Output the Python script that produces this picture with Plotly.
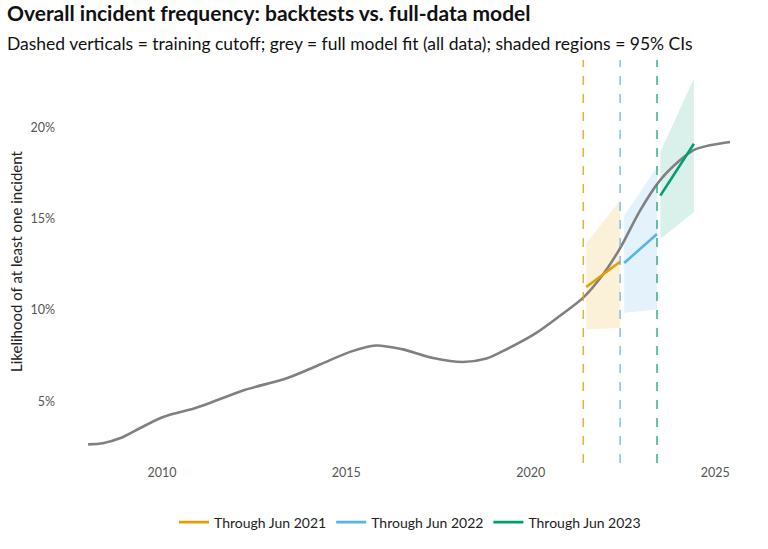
import plotly.graph_objects as go

FONT = "Lato"

# Full-model (grey) fit
grey_years = [2008.0, 2008.4, 2008.86, 2009.4, 2009.95, 2010.31, 2010.85, 2011.3, 2012.2,
              2013.4, 2014.3, 2015.1, 2015.8, 2016.5, 2017.35, 2018.15, 2018.8,
              2019.24, 2020.15, 2020.78, 2021.42, 2021.96, 2022.41, 2022.96, 2023.5,
              2024.04, 2024.4, 2024.85, 2025.4]
grey_vals = [2.65, 2.71, 2.98, 3.53, 4.08, 4.32, 4.6, 4.91, 5.6,
             6.28, 7.03, 7.71, 8.06, 7.86, 7.38, 7.16, 7.35,
             7.75, 8.75, 9.67, 10.68, 11.96, 13.35, 15.44, 17.09,
             18.19, 18.74, 19.01, 19.19]

# Backtests
series_names = ["Through Jun 2021", "Through Jun 2022", "Through Jun 2023"]
series_colors = ["#E69F00", "#56B4E9", "#009E73"]
series_fill = ["rgba(230,159,0,0.15)", "rgba(86,180,233,0.17)", "rgba(0,158,115,0.15)"]
cutoffs = [2021.42, 2022.42, 2023.42]

bt_x = [[2021.5, 2022.42], [2022.53, 2023.42], [2023.51, 2024.42]]
bt_y = [[11.26, 12.64], [12.57, 14.16], [16.26, 19.10]]
bt_lo = [[8.94, 9.03], [9.85, 10.03], [13.88, 15.35]]
bt_hi = [[13.65, 15.99], [15.16, 17.82], [18.64, 22.67]]

x_ticks = [2010, 2015, 2020, 2025]
y_ticks = [5, 10, 15, 20]
y_tick_labels = ["5%", "10%", "15%", "20%"]

fig = go.Figure()

for i in range(3):
    xs = bt_x[i] + bt_x[i][::-1]
    ys = bt_hi[i] + bt_lo[i][::-1]
    fig.add_trace(go.Scatter(x=xs, y=ys, fill="toself", fillcolor=series_fill[i],
                             line=dict(width=0), mode="lines", hoverinfo="skip",
                             showlegend=False))

fig.add_trace(go.Scatter(x=grey_years, y=grey_vals, mode="lines",
                         line=dict(color="#808080", width=2.6, shape="spline", smoothing=0.8),
                         showlegend=False))

for i in range(3):
    fig.add_trace(go.Scatter(x=bt_x[i], y=bt_y[i], mode="lines",
                             line=dict(color=series_colors[i], width=2.6),
                             name=series_names[i]))

for i in range(3):
    fig.add_shape(type="line", xref="x", yref="paper", x0=cutoffs[i], x1=cutoffs[i],
                  y0=0, y1=1, line=dict(color=series_colors[i], width=1.2, dash="dash"))

fig.update_layout(
    width=768, height=549,
    margin=dict(l=56, r=4, t=60, b=86),
    plot_bgcolor="white", paper_bgcolor="white",
    font=dict(family=FONT, color="#222222"),
    xaxis=dict(range=[2007.13, 2026.32], tickvals=x_ticks, showgrid=False,
               zeroline=False, showline=False, ticks="",
               tickfont=dict(size=12.5, color="#555555")),
    yaxis=dict(range=[1.63, 23.68], tickvals=y_ticks, ticktext=y_tick_labels,
               showgrid=False, zeroline=False, showline=False, ticks="",
               tickfont=dict(size=12.5, color="#555555"),
               title=dict(text="Likelihood of at least one incident",
                          font=dict(size=15, color="#222222"), standoff=4)),
    legend=dict(orientation="h", x=0.5, xanchor="center", y=-0.108, yanchor="top",
                font=dict(size=14, color="#222222"), itemwidth=30),
    annotations=[
        dict(text="<b>Overall incident frequency: backtests vs. full-data model</b>",
             xref="paper", yref="paper", x=-0.072, y=1.117, xanchor="left", yanchor="middle",
             showarrow=False, font=dict(size=21, color="#111111")),
        dict(text="Dashed verticals = training cutoff; grey = full model fit (all data); shaded regions = 95% CIs",
             xref="paper", yref="paper", x=-0.072, y=1.042, xanchor="left", yanchor="middle",
             showarrow=False, font=dict(size=17.5, color="#111111")),
    ],
)

fig.write_html("out.html")
